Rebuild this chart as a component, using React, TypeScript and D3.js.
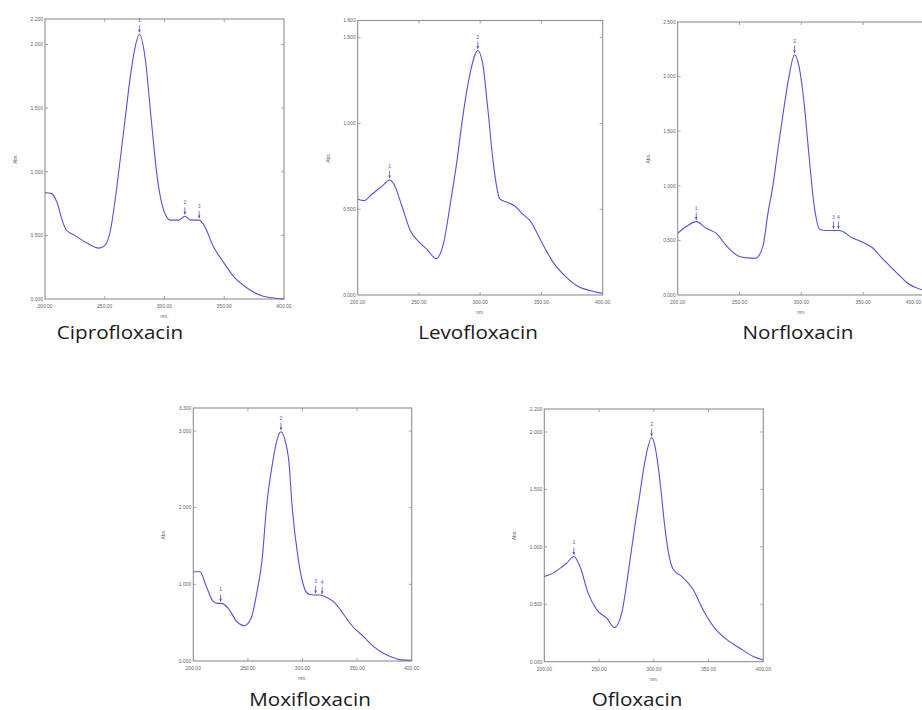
import * as d3 from "d3";

// UV spectra of five fluoroquinolones
const names = ["Ciprofloxacin", "Levofloxacin", "Norfloxacin", "Moxifloxacin", "Ofloxacin"];
const xTicks = [200, 250, 300, 350, 400];

const ciproNm = [200, 205, 210, 215, 218, 225, 235, 245, 250, 255, 259, 263, 267, 271, 275, 279, 284, 289, 294, 300, 305, 312, 317, 322, 326, 329, 333, 341, 350, 358, 370, 380, 390, 400];
const ciproAbs = [0.835, 0.83, 0.76, 0.6, 0.54, 0.5, 0.44, 0.4, 0.42, 0.55, 0.8, 1.1, 1.41, 1.72, 1.96, 2.08, 1.88, 1.4, 0.95, 0.68, 0.62, 0.62, 0.65, 0.62, 0.62, 0.62, 0.58, 0.41, 0.28, 0.175, 0.08, 0.03, 0.01, 0.0];
const ciproYTicks = [0, 0.5, 1, 1.5, 2, 2.2];
const ciproPeaks = [279, 317, 329];
const ciproPeakLabels = ["1", "2", "3"];

const levoNm = [200, 205, 212, 220, 226, 230, 236, 243, 250, 256, 264, 270, 276, 281, 286, 292, 298, 302, 306, 311, 316, 322, 328, 335, 341, 350, 360, 370, 380, 390, 400];
const levoAbs = [0.558, 0.55, 0.59, 0.635, 0.67, 0.64, 0.52, 0.375, 0.31, 0.27, 0.213, 0.3, 0.55, 0.78, 1.05, 1.3, 1.425, 1.35, 1.1, 0.75, 0.56, 0.54, 0.52, 0.47, 0.43, 0.31, 0.186, 0.106, 0.05, 0.025, 0.01];
const levoYTicks = [0, 0.5, 1, 1.5, 1.6];
const levoPeaks = [226, 298];
const levoPeakLabels = ["1", "2"];

const norNm = [200, 207, 215, 223, 231, 240, 250, 256, 263, 269, 273, 277, 281, 286, 290, 294.5, 298, 302, 306, 310, 315, 320, 326, 330, 334, 340, 345, 352, 358, 365, 372, 380, 386, 392, 400];
const norAbs = [0.566, 0.627, 0.672, 0.612, 0.566, 0.443, 0.352, 0.34, 0.337, 0.45, 0.75, 1.0, 1.33, 1.72, 2.0, 2.2, 2.1, 1.78, 1.3, 0.85, 0.6, 0.59, 0.59, 0.59, 0.58, 0.53, 0.505, 0.47, 0.428, 0.34, 0.26, 0.17, 0.107, 0.07, 0.04];
const norYTicks = [0, 0.5, 1, 1.5, 2, 2.5];
const norPeaks = [215, 294.5, 326, 330];
const norPeakLabels = ["1", "2", "3", "4"];

const moxiNm = [200, 206, 212, 218, 222, 226, 232, 240, 246.7, 253, 258, 263, 267, 273, 277, 280.3, 284, 287.4, 290.6, 296.2, 302.3, 306, 311, 316, 322, 330, 337, 346, 356, 365, 374, 382, 390, 400];
const moxiAbs = [1.165, 1.165, 0.97, 0.78, 0.752, 0.752, 0.687, 0.512, 0.46, 0.56, 0.88, 1.32, 2.0, 2.62, 2.9, 2.99, 2.88, 2.62, 2.0, 1.32, 0.93, 0.87, 0.86, 0.86, 0.83, 0.752, 0.62, 0.45, 0.317, 0.19, 0.1, 0.05, 0.015, 0.01];
const moxiYTicks = [0, 1, 2, 3, 3.3];
const moxiPeaks = [225, 280.3, 312, 318];
const moxiPeakLabels = ["1", "2", "3", "4"];

const oflNm = [200, 208, 214, 220.5, 227, 232.6, 240, 248, 257, 264, 270.7, 274, 278.3, 283, 287.4, 292, 298, 301, 304, 307, 310, 314, 318, 325.5, 336, 345, 357, 367, 378.7, 390, 400];
const oflAbs = [0.742, 0.771, 0.81, 0.859, 0.916, 0.829, 0.597, 0.451, 0.379, 0.297, 0.422, 0.6, 0.887, 1.2, 1.47, 1.75, 1.95, 1.88, 1.7, 1.45, 1.178, 0.92, 0.8, 0.742, 0.626, 0.451, 0.277, 0.19, 0.117, 0.05, 0.015];
const oflYTicks = [0, 0.5, 1, 1.5, 2, 2.2];
const oflPeaks = [227, 298];
const oflPeakLabels = ["1", "2"];

// layout: plot frames and caption positions in page pixels
const panels = [
  { name: names[0], nm: ciproNm, abs: ciproAbs, yTicks: ciproYTicks, peaks: ciproPeaks, peakLabels: ciproPeakLabels, l: 45, r: 284, t: 19, b: 299, capX: 120, capY: 339 },
  { name: names[1], nm: levoNm, abs: levoAbs, yTicks: levoYTicks, peaks: levoPeaks, peakLabels: levoPeakLabels, l: 357.7, r: 602.7, t: 20.5, b: 295, capX: 478, capY: 339 },
  { name: names[2], nm: norNm, abs: norAbs, yTicks: norYTicks, peaks: norPeaks, peakLabels: norPeakLabels, l: 677.7, r: 925, t: 22, b: 295, capX: 798, capY: 339 },
  { name: names[3], nm: moxiNm, abs: moxiAbs, yTicks: moxiYTicks, peaks: moxiPeaks, peakLabels: moxiPeakLabels, l: 193.3, r: 411.7, t: 408, b: 661, capX: 310, capY: 706 },
  { name: names[4], nm: oflNm, abs: oflAbs, yTicks: oflYTicks, peaks: oflPeaks, peakLabels: oflPeakLabels, l: 544.3, r: 763.3, t: 409, b: 661.7, capX: 637, capY: 706 },
];

const W = 922;
const frameColor = "#8f8f8f";
const lineColor = "#5353d4";
const tickFont = "'Liberation Sans', Arial, sans-serif";

function Panel({ p }: { p: any }) {
  const yMax = p.yTicks[p.yTicks.length - 1];
  const x = d3.scaleLinear().domain([200, 400]).range([p.l, p.r]);
  const y = d3.scaleLinear().domain([0, yMax]).range([p.b, p.t]);
  const pts: [number, number][] = p.nm.map((d: number, i: number) => [d, p.abs[i]]);
  const line = d3.line<[number, number]>().x(d => x(d[0])).y(d => y(d[1])).curve(d3.curveMonotoneX);
  const absAt = d3.scaleLinear().domain(p.nm).range(p.abs);
  const fy = d3.format(".3f");
  const fx = d3.format(".2f");
  const innerX = xTicks.slice(1, -1);
  const innerY = p.yTicks.slice(1, -1);
  return (
    <g>
      <rect x={p.l} y={p.t} width={p.r - p.l} height={p.b - p.t} fill="none" stroke={frameColor} strokeWidth={1.1} />
      {innerX.map((t: number) => (
        <g key={"x" + t} stroke={frameColor} strokeWidth={0.8}>
          <line x1={x(t)} x2={x(t)} y1={p.b} y2={p.b - 3} />
          <line x1={x(t)} x2={x(t)} y1={p.t} y2={p.t + 3} />
        </g>
      ))}
      {innerY.map((t: number) => (
        <g key={"y" + t} stroke={frameColor} strokeWidth={0.8}>
          <line x1={p.l} x2={p.l + 3} y1={y(t)} y2={y(t)} />
          <line x1={p.r} x2={p.r - 3} y1={y(t)} y2={y(t)} />
        </g>
      ))}
      <g fontFamily={tickFont} fontSize={5} fill="#666">
        {xTicks.map(t => {
          // keep the label inside the page when the frame runs past the edge
          const past = x(t) + 8 > W;
          return (
            <text key={"xl" + t} x={past ? W - 1 : x(t)} y={p.b + 9} textAnchor={past ? "end" : "middle"}>{fx(t)}</text>
          );
        })}
        {p.yTicks.map((t: number) => (
          <text key={"yl" + t} x={p.l - 2} y={y(t) + 1.8} textAnchor="end">{fy(t)}</text>
        ))}
        <text x={(p.l + p.r) / 2} y={p.b + 19} textAnchor="middle">nm.</text>
        <text transform={`translate(${p.l - 28},${(p.t + p.b) / 2}) rotate(-90)`} textAnchor="middle">Abs.</text>
      </g>
      <path d={line(pts) || ""} fill="none" stroke={lineColor} strokeWidth={1.1} />
      {p.peaks.map((pk: number, i: number) => {
        const cx = x(pk);
        const cy = y(absAt(pk));
        return (
          <g key={"pk" + i}>
            <line x1={cx} x2={cx} y1={cy - 2} y2={cy - 9} stroke={lineColor} strokeWidth={0.8} />
            <path d={`M${cx - 1.3},${cy - 4.5}L${cx + 1.3},${cy - 4.5}L${cx},${cy - 1.5}Z`} fill={lineColor} />
            <text x={cx} y={cy - 12} textAnchor="middle" fontSize={5} fontFamily={tickFont} fill={lineColor}>{p.peakLabels[i]}</text>
          </g>
        );
      })}
      <text transform={`translate(${p.capX},${p.capY}) scale(1.18,1)`} textAnchor="middle" fontFamily="'Open Sans', sans-serif" fontSize={17.5} fill="#1a1a1a">{p.name}</text>
    </g>
  );
}

export default function App() {
  return (
    <svg width={W} height={710} style={{ position: "absolute", left: 0, top: 0, background: "#fff" }}>
      <rect width={W} height={710} fill="#fff" />
      {panels.map(p => <Panel key={p.name} p={p} />)}
    </svg>
  );
}
